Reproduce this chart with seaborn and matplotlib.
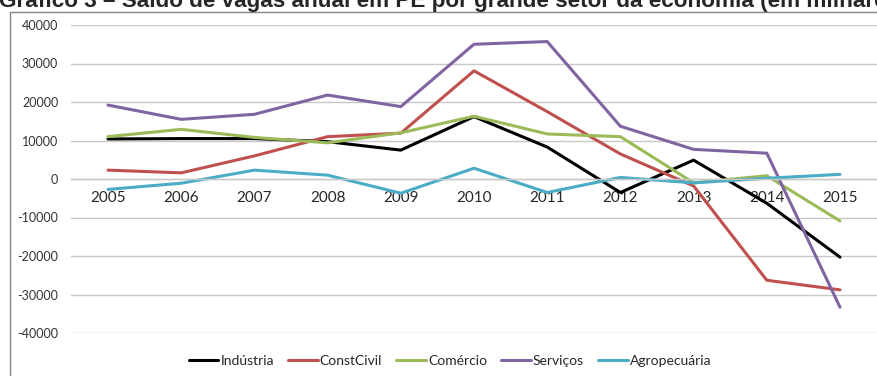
import matplotlib
matplotlib.use("Agg")
import matplotlib.pyplot as plt
import seaborn as sns
import pandas as pd
from matplotlib.patches import Rectangle
from matplotlib.lines import Line2D

anos = ["2005", "2006", "2007", "2008", "2009", "2010", "2011", "2012", "2013", "2014", "2015"]
industria = [10400, 10500, 10500, 9700, 7500, 16200, 8300, -3500, 4900, -6300, -20300]
constcivil = [2300, 1600, 6000, 11000, 11900, 28100, 17500, 6500, -1800, -26300, -28800]
comercio = [11000, 12900, 10800, 9400, 12000, 16300, 11700, 11000, -1000, 850, -10900]
servicos = [19200, 15500, 16800, 21800, 18800, 35000, 35700, 13700, 7700, 6700, -33300]
agropecuaria = [-2700, -1100, 2300, 1000, -3700, 2800, -3500, 400, -1000, 200, 1200]

setores = ["Indústria", "ConstCivil", "Comércio", "Serviços", "Agropecuária"]
valores = [industria, constcivil, comercio, servicos, agropecuaria]
cores = ["#000000", "#C0504D", "#9BBB59", "#8064A2", "#4BACC6"]
yticks = [40000, 30000, 20000, 10000, 0, -10000, -20000, -30000, -40000]
titulo = "Gráfico 3 – Saldo de vagas anual em PE por grande setor da economia (em milhares)"

rows = []
for s, vals in zip(setores, valores):
    for i, v in enumerate(vals):
        rows.append({"idx": i, "ano": anos[i], "valor": v, "setor": s})
df = pd.DataFrame(rows)

sns.set_theme(style="white")
plt.rcParams["font.family"] = ["Lato", "DejaVu Sans"]

fig = plt.figure(figsize=(8.77, 3.76), dpi=100)
ax = fig.add_axes([71.4 / 877, 1 - 333 / 376, (876.6 - 71.4) / 877, (333 - 25) / 376])

sns.lineplot(data=df, x="idx", y="valor", hue="setor", hue_order=setores,
             palette=dict(zip(setores, cores)), linewidth=2.2, sort=False,
             ax=ax, legend=False)

ax.set_xlim(-0.5, len(anos) - 0.5)
ax.set_ylim(-40000, 40000)
ax.set_yticks(yticks)
ax.set_yticklabels([str(t) for t in yticks], fontsize=9, color="#333333")
ax.set_xticks(range(len(anos)))
ax.set_xticklabels(anos, fontsize=9, color="#333333")
ax.grid(axis="y", color="#C8C8C8", linewidth=1.0)
ax.set_axisbelow(True)
for sp in ["top", "right", "left"]:
    ax.spines[sp].set_visible(False)
ax.spines["bottom"].set_position(("data", 0))
ax.spines["bottom"].set_color("#C8C8C8")
ax.spines["bottom"].set_linewidth(1.0)
ax.tick_params(axis="x", length=0, pad=9)
ax.tick_params(axis="y", length=0, pad=9.5)
ax.set_xlabel("")
ax.set_ylabel("")

handles = [Line2D([0], [0], color=c, linewidth=2.2) for c in cores]
fig.legend(handles, setores, loc="center", bbox_to_anchor=(450 / 877, 1 - 361 / 376),
           ncol=5, frameon=False, fontsize=10, handlelength=2.15, handletextpad=0.15,
           columnspacing=1.0, borderpad=0, borderaxespad=0)

fig.patches.append(Rectangle((10 / 877, -0.1), 2, 1 - 12 / 376 + 0.1,
                             transform=fig.transFigure, fill=False,
                             edgecolor="#868686", linewidth=1.0))

fig.text(-1 / 877, 1 - 7 / 376, titulo,
         fontsize=16.2, fontweight="bold", family=["Liberation Sans", "DejaVu Sans"],
         ha="left", va="baseline")

fig.savefig("out.png", dpi=100)
